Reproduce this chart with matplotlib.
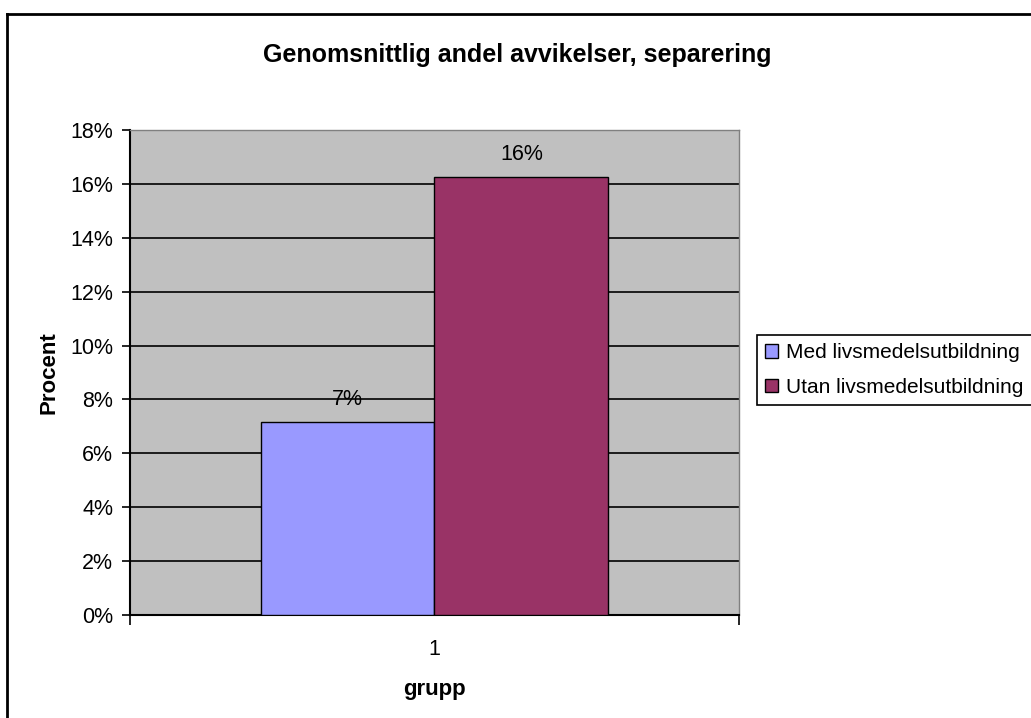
import matplotlib
matplotlib.use("Agg")
import matplotlib.pyplot as plt
from matplotlib.patches import Patch
from matplotlib.lines import Line2D
from matplotlib.ticker import PercentFormatter, FixedLocator

plt.rcParams['font.family'] = ['Liberation Sans', 'DejaVu Sans']

title = "Genomsnittlig andel avvikelser, separering"
groups = ["1"]
series = ["Med livsmedelsutbildning", "Utan livsmedelsutbildning"]
values = [7.16, 16.26]          # percent
labels = ["7%", "16%"]
colors = ["#9999FF", "#993366"]
yticks = [0, 2, 4, 6, 8, 10, 12, 14, 16, 18]

W, H = 1031, 718
fig = plt.figure(figsize=(W / 100, H / 100), dpi=100)
fig.patch.set_facecolor("white")

ax = fig.add_axes([130 / W, 1 - 615 / H, (739 - 130) / W, (615 - 130) / H])
ax.set_facecolor("#C0C0C0")

# Excel-style clustered bars: gap width 150% -> bar width = 1 / 3.5
bw = 1 / 3.5
n = len(series)
for i, (name, v, lab, c) in enumerate(zip(series, values, labels, colors)):
    x = 1 + (i - (n - 1) / 2) * bw
    ax.bar(x, v, width=bw, color=c, edgecolor="black", linewidth=1.0, zorder=3, label=name)
    ax.text(x, v + 0.45, lab, ha="center", va="bottom", fontsize=15.5, color="black")

ax.set_xlim(0.5, 1.5)
ax.set_ylim(0, 18)
ax.yaxis.set_major_locator(FixedLocator(yticks))
ax.yaxis.set_major_formatter(PercentFormatter(decimals=0))
ax.grid(axis="y", color="black", linewidth=1.2, zorder=1)
ax.set_axisbelow(True)

ax.set_xticks([0.5, 1.5])
ax.set_xticklabels(["", ""])
ax.set_xticks([1], minor=True)
ax.set_xticklabels(groups, minor=True)
ax.tick_params(axis="x", which="major", direction="out", length=7, width=1.2, color="black")
ax.tick_params(axis="x", which="minor", length=0, pad=17, labelsize=15.5)
ax.tick_params(axis="y", direction="out", length=6, width=1.2, labelsize=15.5, pad=6)

for side in ["left", "bottom"]:
    ax.spines[side].set_linewidth(1.5)
    ax.spines[side].set_color("black")
for side in ["top", "right"]:
    ax.spines[side].set_linewidth(1.0)
    ax.spines[side].set_color("#808080")

ax.set_ylabel("Procent", fontsize=16, fontweight="bold", labelpad=8)
ax.set_xlabel("grupp", fontsize=16, fontweight="bold", labelpad=14)

fig.text(517 / W, 1 - 55 / H, title, ha="center", va="center", fontsize=18, fontweight="bold")

handles = [Patch(facecolor=c, edgecolor="black", linewidth=1.0) for c in colors]
leg = fig.legend(handles, series, loc="upper left",
                 bbox_to_anchor=(757 / W, 1 - 335 / H),
                 frameon=True, fancybox=False, edgecolor="black", framealpha=1,
                 fontsize=15, handlelength=0.62, handleheight=0.62,
                 handletextpad=0.38, labelspacing=0.75, borderpad=0.4,
                 borderaxespad=0)
leg.get_frame().set_linewidth(1.2)

# Chart-area border (top and left edges visible)
fig.add_artist(Line2D([7 / W, 1.0], [1 - 14 / H, 1 - 14 / H], color="black", linewidth=2.0,
                      transform=fig.transFigure))
fig.add_artist(Line2D([7 / W, 7 / W], [0.0, 1 - 14 / H], color="black", linewidth=2.0,
                      transform=fig.transFigure))

fig.savefig("out.png", dpi=100, facecolor="white")
